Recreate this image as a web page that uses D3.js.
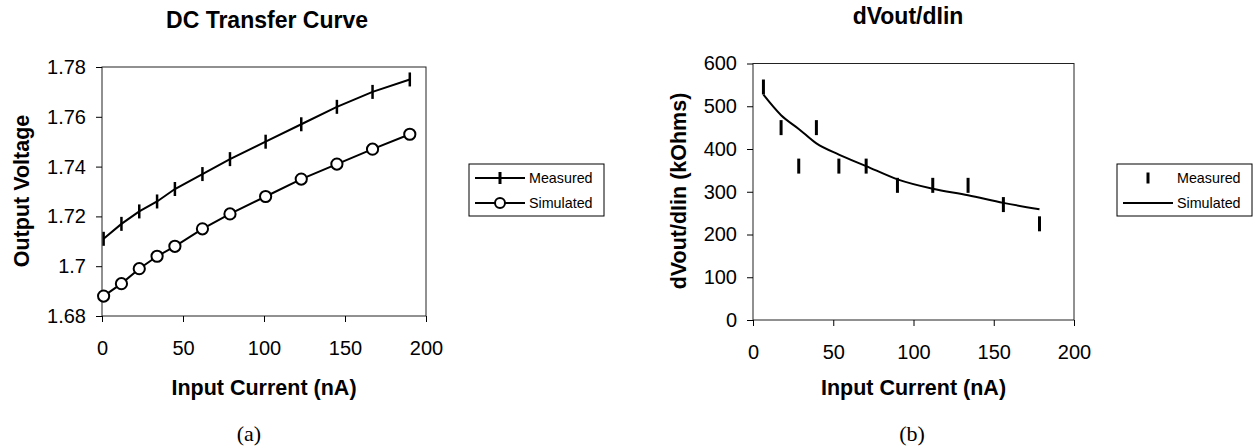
<!DOCTYPE html>
<html>
<head>
<meta charset="utf-8">
<script src="https://cdn.jsdelivr.net/npm/d3@7"></script>
<style>
  body { margin: 0; background: #fff; }
  svg { display: block; font-family: "Liberation Sans", Arial, sans-serif; }
  .axis text { font-size: 20px; fill: #000; }
  .axis path, .axis line { stroke: #000; stroke-width: 1; }
  .title { font-size: 23px; font-weight: bold; }
  .axis-title { font-size: 21.5px; font-weight: bold; }
  .caption { font-family: "Liberation Serif", "Times New Roman", serif; font-size: 22px; }
  .legend text { font-size: 14.3px; }
</style>
</head>
<body>
<svg></svg>
<script>
const w = 1253;
const h = 448;

// Data: (a) DC transfer curve
const currentA = [1, 12, 23, 34, 45, 62, 79, 101, 123, 145, 167, 190];
const measuredV = [1.711, 1.717, 1.722, 1.726, 1.731, 1.737, 1.743, 1.750, 1.757, 1.764, 1.770, 1.775];
const simulatedV = [1.688, 1.693, 1.699, 1.704, 1.708, 1.715, 1.721, 1.728, 1.735, 1.741, 1.747, 1.753];
const xTicks = [0, 50, 100, 150, 200];
const yTicksA = [1.68, 1.7, 1.72, 1.74, 1.76, 1.78];

// Data: (b) dVout/dIin
const currentB = [6.5, 17.5, 28.5, 39.5, 53.5, 70.5, 90, 112, 134, 156, 178.5];
const measuredR = [545, 450, 360, 450, 360, 360, 315, 315, 315, 270, 225];
const simulatedR = [527, 479, 447, 413, 387, 360, 329, 307, 292, 274, 259];
const yTicksB = [0, 100, 200, 300, 400, 500, 600];

const svg = d3.select("svg")
    .attr("width", w)
    .attr("height", h);

function panel(box, yDomain, yTicks, labels) {
    const g = svg.append("g");
    const x = d3.scaleLinear().domain([0, 200]).range([box.left, box.right]);
    const y = d3.scaleLinear().domain(yDomain).range([box.bottom, box.top]);

    g.append("rect")
        .attr("x", box.left)
        .attr("y", box.top)
        .attr("width", box.right - box.left)
        .attr("height", box.bottom - box.top)
        .attr("fill", "none")
        .attr("stroke", "#222")
        .attr("stroke-width", 1);

    g.append("g")
        .attr("class", "axis")
        .attr("transform", `translate(0,${box.bottom})`)
        .call(d3.axisBottom(x).tickValues(xTicks).tickSize(6).tickSizeOuter(0).tickPadding(19))
        .call(s => s.select(".domain").remove());

    g.append("g")
        .attr("class", "axis")
        .attr("transform", `translate(${box.left},0)`)
        .call(d3.axisLeft(y).tickValues(yTicks).tickFormat(d => String(d)).tickSize(6).tickSizeOuter(0).tickPadding(10))
        .call(s => s.select(".domain").remove());

    g.append("text")
        .attr("class", "title")
        .attr("x", labels.titleX)
        .attr("y", labels.titleY)
        .attr("text-anchor", "middle")
        .text(labels.title);

    g.append("text")
        .attr("class", "axis-title")
        .attr("x", (box.left + box.right) / 2)
        .attr("y", 395)
        .attr("text-anchor", "middle")
        .text("Input Current (nA)");

    g.append("text")
        .attr("class", "axis-title")
        .attr("transform", `translate(${labels.yTitleX},191) rotate(-90)`)
        .attr("text-anchor", "middle")
        .attr("dy", "0.36em")
        .text(labels.yTitle);

    g.append("text")
        .attr("class", "caption")
        .attr("x", labels.captionX)
        .attr("y", 441)
        .attr("text-anchor", "middle")
        .text(labels.caption);

    return { g, x, y };
}

function legend(lx, entries) {
    const lg = svg.append("g").attr("class", "legend");
    lg.append("rect")
        .attr("x", lx)
        .attr("y", 164)
        .attr("width", 135)
        .attr("height", 52)
        .attr("fill", "#fff")
        .attr("stroke", "#000")
        .attr("stroke-width", 1);
    entries.forEach((e, i) => {
        const cy = 178 + i * 25;
        const row = lg.append("g");
        if (e.line) {
            row.append("line")
                .attr("x1", lx + 6).attr("x2", lx + 56)
                .attr("y1", cy).attr("y2", cy)
                .attr("stroke", "#000").attr("stroke-width", 2);
        }
        if (e.mark === "tick") {
            row.append("line")
                .attr("x1", lx + e.markX).attr("x2", lx + e.markX)
                .attr("y1", cy - e.markH / 2).attr("y2", cy + e.markH / 2)
                .attr("stroke", "#000").attr("stroke-width", 3);
        }
        if (e.mark === "circle") {
            row.append("circle")
                .attr("cx", lx + 31).attr("cy", cy).attr("r", 5)
                .attr("fill", "#fff").attr("stroke", "#000").attr("stroke-width", 2);
        }
        row.append("text")
            .attr("x", lx + 60)
            .attr("y", cy)
            .attr("dy", "0.36em")
            .text(e.label);
    });
}

// (a)
const a = panel({ left: 102, right: 426, top: 67, bottom: 316 }, [1.68, 1.78], yTicksA,
    { title: "DC Transfer Curve", titleX: 267, titleY: 28, yTitle: "Output Voltage", yTitleX: 21, caption: "(a)", captionX: 249 });

const lineA = d3.line().x(d => a.x(d[0])).y(d => a.y(d[1]));
const measA = d3.zip(currentA, measuredV);
const simA = d3.zip(currentA, simulatedV);

a.g.append("path").datum(measA).attr("d", lineA)
    .attr("fill", "none").attr("stroke", "#000").attr("stroke-width", 2);
a.g.append("path").datum(simA).attr("d", lineA)
    .attr("fill", "none").attr("stroke", "#000").attr("stroke-width", 2);

a.g.selectAll(".meas-a").data(measA).enter()
    .append("line").attr("class", "meas-a")
    .attr("x1", d => a.x(d[0])).attr("x2", d => a.x(d[0]))
    .attr("y1", d => a.y(d[1]) - 7).attr("y2", d => a.y(d[1]) + 7)
    .attr("stroke", "#000").attr("stroke-width", 2.5);

a.g.selectAll(".sim-a").data(simA).enter()
    .append("circle").attr("class", "sim-a")
    .attr("cx", d => a.x(d[0])).attr("cy", d => a.y(d[1])).attr("r", 5.6)
    .attr("fill", "#fff").attr("stroke", "#000").attr("stroke-width", 2);

legend(469, [
    { label: "Measured", line: true, mark: "tick", markX: 31, markH: 12 },
    { label: "Simulated", line: true, mark: "circle" }
]);

// (b)
const b = panel({ left: 753, right: 1074, top: 63.5, bottom: 320 }, [0, 600], yTicksB,
    { title: "dVout/dIin", titleX: 908, titleY: 24, yTitle: "dVout/dIin (kOhms)", yTitleX: 678, caption: "(b)", captionX: 912 });

const lineB = d3.line().curve(d3.curveMonotoneX).x(d => b.x(d[0])).y(d => b.y(d[1]));
b.g.append("path").datum(d3.zip(currentB, simulatedR)).attr("d", lineB)
    .attr("fill", "none").attr("stroke", "#000").attr("stroke-width", 2);

b.g.selectAll(".meas-b").data(d3.zip(currentB, measuredR)).enter()
    .append("line").attr("class", "meas-b")
    .attr("x1", d => b.x(d[0])).attr("x2", d => b.x(d[0]))
    .attr("y1", d => b.y(d[1]) - 7.5).attr("y2", d => b.y(d[1]) + 7.5)
    .attr("stroke", "#000").attr("stroke-width", 3);

legend(1117, [
    { label: "Measured", line: false, mark: "tick", markX: 31, markH: 11 },
    { label: "Simulated", line: true }
]);
</script>
</body>
</html>
